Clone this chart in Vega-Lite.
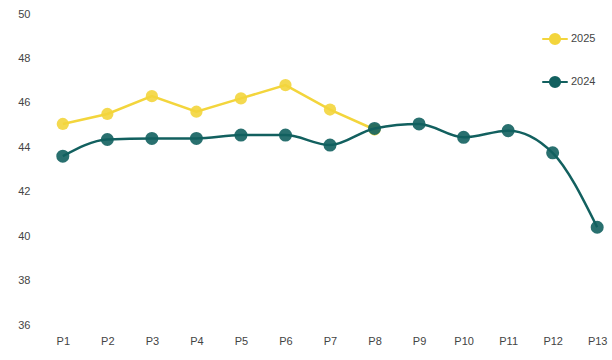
{
  "$schema": "https://vega.github.io/schema/vega-lite/v6.json",
  "autosize": "none",
  "width": 570,
  "height": 311,
  "padding": {"left": 45, "top": 14, "right": 0, "bottom": 35},
  "background": "white",
  "config": {"view": {"stroke": null}, "font": "Liberation Sans"},
  "data": {"values": [
    {"period": "P1", "year": "2025", "value": 45.05},
    {"period": "P2", "year": "2025", "value": 45.5},
    {"period": "P3", "year": "2025", "value": 46.3},
    {"period": "P4", "year": "2025", "value": 45.6},
    {"period": "P5", "year": "2025", "value": 46.2},
    {"period": "P6", "year": "2025", "value": 46.8},
    {"period": "P7", "year": "2025", "value": 45.7},
    {"period": "P8", "year": "2025", "value": 44.8},
    {"period": "P1", "year": "2024", "value": 43.6},
    {"period": "P2", "year": "2024", "value": 44.35},
    {"period": "P3", "year": "2024", "value": 44.4},
    {"period": "P4", "year": "2024", "value": 44.4},
    {"period": "P5", "year": "2024", "value": 44.55},
    {"period": "P6", "year": "2024", "value": 44.55},
    {"period": "P7", "year": "2024", "value": 44.1},
    {"period": "P8", "year": "2024", "value": 44.85},
    {"period": "P9", "year": "2024", "value": 45.05},
    {"period": "P10", "year": "2024", "value": 44.45},
    {"period": "P11", "year": "2024", "value": 44.75},
    {"period": "P12", "year": "2024", "value": 43.75},
    {"period": "P13", "year": "2024", "value": 40.4}
  ]},
  "encoding": {
    "x": {"field": "period", "type": "ordinal", "sort": null,
      "scale": {"type": "point", "padding": 0.4},
      "axis": {"title": null, "domain": false, "ticks": false, "labelAngle": 0, "labelPadding": 10, "labelColor": "#444", "labelFontSize": 11}},
    "y": {"field": "value", "type": "quantitative",
      "scale": {"domain": [36, 50], "nice": false, "zero": false},
      "axis": {"title": null, "domain": false, "ticks": false, "grid": false, "values": [36, 38, 40, 42, 44, 46, 48, 50], "labelPadding": 15, "labelColor": "#444", "labelFontSize": 11}},
    "color": {"field": "year", "type": "nominal",
      "scale": {"domain": ["2025", "2024"], "range": ["#F3D53C", "#12605F"]},
      "legend": {"title": null, "orient": "none", "legendX": 496, "legendY": 11,
         "symbolType": "M-1,0L1,0M-0.4,0A0.4,0.4 0 1,1 0.4,0A0.4,0.4 0 1,1 -0.4,0",
         "symbolSize": 650, "symbolStrokeWidth": 2, "rowPadding": 19, "labelFontSize": 11, "labelColor": "#444", "labelOffset": 2,
         "symbolOpacity": 1}}
  },
  "layer": [
    {"transform": [{"filter": "datum.year == '2025'"}],
     "mark": {"type": "line", "strokeWidth": 2.5, "interpolate": "linear"}},
    {"transform": [{"filter": "datum.year == '2025'"}],
     "mark": {"type": "point", "filled": true, "opacity": 0.9, "size": 150}},
    {"transform": [{"filter": "datum.year == '2024'"}],
     "mark": {"type": "line", "strokeWidth": 2.5, "interpolate": "monotone"}},
    {"transform": [{"filter": "datum.year == '2024'"}],
     "mark": {"type": "point", "filled": true, "opacity": 0.9, "size": 170}}
  ]
}
